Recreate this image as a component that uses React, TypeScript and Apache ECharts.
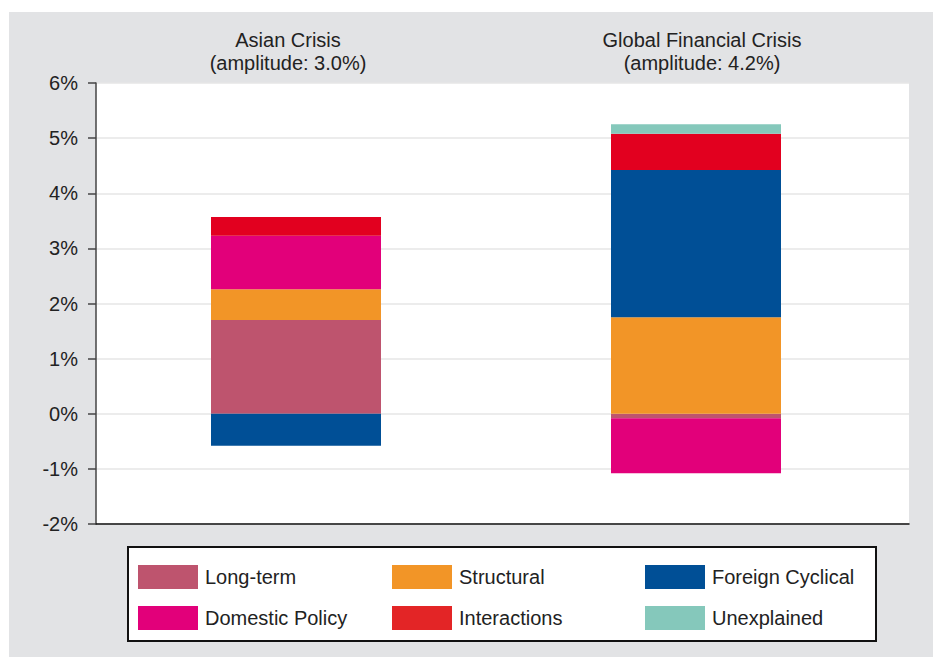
import React, { useEffect, useRef } from "react";
import * as echarts from "echarts";

const categories = ["Asian Crisis", "Global Financial Crisis"];
const amplitudeLabels = ["(amplitude: 3.0%)", "(amplitude: 4.2%)"];
const yTicks = { min: -2, max: 6, interval: 1 };

const longTerm = [1.7, -0.08];
const structural = [0.56, 1.75];
const foreignCyclical = [-0.58, 2.67];
const domesticPolicy = [0.97, -1.0];
const interactions = [0.34, 0.66];
const unexplained = [0, 0.17];

const seriesDefs = [
  { name: "Long-term", data: longTerm, color: "#BE546E", legendColor: "#BE546E" },
  { name: "Structural", data: structural, color: "#F29527", legendColor: "#F29527" },
  { name: "Foreign Cyclical", data: foreignCyclical, color: "#004F96", legendColor: "#004F96" },
  { name: "Domestic Policy", data: domesticPolicy, color: "#E2007A", legendColor: "#E2007A" },
  { name: "Interactions", data: interactions, color: "#E2001F", legendColor: "#E32526" },
  { name: "Unexplained", data: unexplained, color: "#85C8BB", legendColor: "#85C8BB" },
];

const FONT = "Liberation Sans, Arial, sans-serif";

export default function App() {
  const ref = useRef<HTMLDivElement>(null);
  useEffect(() => {
    if (!ref.current) return;
    const chart = echarts.init(ref.current, null, { renderer: "svg" });
    const legendPos = [
      [138, 565], [392, 565], [645, 565],
      [138, 606], [392, 606], [645, 606],
    ];
    const legendOrder = ["Long-term", "Structural", "Foreign Cyclical", "Domestic Policy", "Interactions", "Unexplained"];
    const titleCenters = [288, 702];
    chart.setOption({
      animation: false,
      textStyle: { fontFamily: FONT },
      title: categories.map((c, i) => ({
        text: c + "\n" + amplitudeLabels[i],
        left: titleCenters[i],
        top: 28,
        textAlign: "center",
        padding: 0,
        textStyle: {
          fontFamily: FONT,
          fontSize: 20,
          fontWeight: "normal",
          color: "#222",
          lineHeight: 23,
        },
      })),
      grid: [
        { left: 96, right: 24, top: 83, bottom: 133, show: true, backgroundColor: "#ffffff", borderWidth: 0 },
        { left: 96, right: 37, top: 83, bottom: 133, show: false },
      ],
      xAxis: [
        {
          type: "category",
          gridIndex: 0,
          data: categories,
          axisLine: { show: true, onZero: false, lineStyle: { color: "#111", width: 1.5 } },
          axisTick: { show: false },
          axisLabel: { show: false },
          splitLine: { show: false },
        },
        {
          type: "category",
          gridIndex: 1,
          data: categories,
          show: false,
        },
      ],
      yAxis: [
        {
          type: "value",
          gridIndex: 0,
          min: yTicks.min,
          max: yTicks.max,
          interval: yTicks.interval,
          axisLine: { show: true, lineStyle: { color: "#444", width: 1.5 } },
          axisTick: { show: true, length: 8, lineStyle: { color: "#444", width: 1.5 } },
          axisLabel: {
            formatter: "{value}%",
            fontSize: 20,
            color: "#222",
            margin: 18,
            fontFamily: FONT,
          },
          splitLine: { show: true, lineStyle: { color: "#e6e6e6", width: 1.5 } },
        },
        {
          type: "value",
          gridIndex: 1,
          min: yTicks.min,
          max: yTicks.max,
          interval: yTicks.interval,
          show: false,
          splitLine: { show: false },
        },
      ],
      legend: legendOrder.map((name, i) => {
        const def = seriesDefs.find((s) => s.name === name)!;
        return {
          data: [{ name, itemStyle: { color: def.legendColor } }],
          left: legendPos[i][0],
          top: legendPos[i][1],
          padding: 0,
          itemWidth: 60,
          itemHeight: 24,
          icon: "rect",
          selectedMode: false,
          textStyle: { fontSize: 20, color: "#222", fontFamily: FONT, padding: [0, 0, 0, 2] },
        };
      }),
      graphic: [
        {
          type: "rect",
          z: 0,
          shape: { x: 128, y: 547, width: 748, height: 94 },
          style: { fill: "#ffffff", stroke: "#111", lineWidth: 2 },
        },
      ],
      series: seriesDefs.map((s) => ({
        name: s.name,
        type: "bar",
        stack: "total",
        xAxisIndex: 1,
        yAxisIndex: 1,
        barWidth: 170,
        data: s.data,
        itemStyle: { color: s.color },
      })),
    });
    return () => chart.dispose();
  }, []);
  return (
    <div style={{ position: "fixed", left: 0, top: 0, width: 933, height: 657, background: "#ffffff" }}>
      <div style={{ position: "absolute", left: 9, top: 12, width: 924, height: 645, background: "#e2e3e5" }} />
      <div ref={ref} style={{ position: "absolute", left: 0, top: 0, width: 933, height: 657 }} />
    </div>
  );
}
